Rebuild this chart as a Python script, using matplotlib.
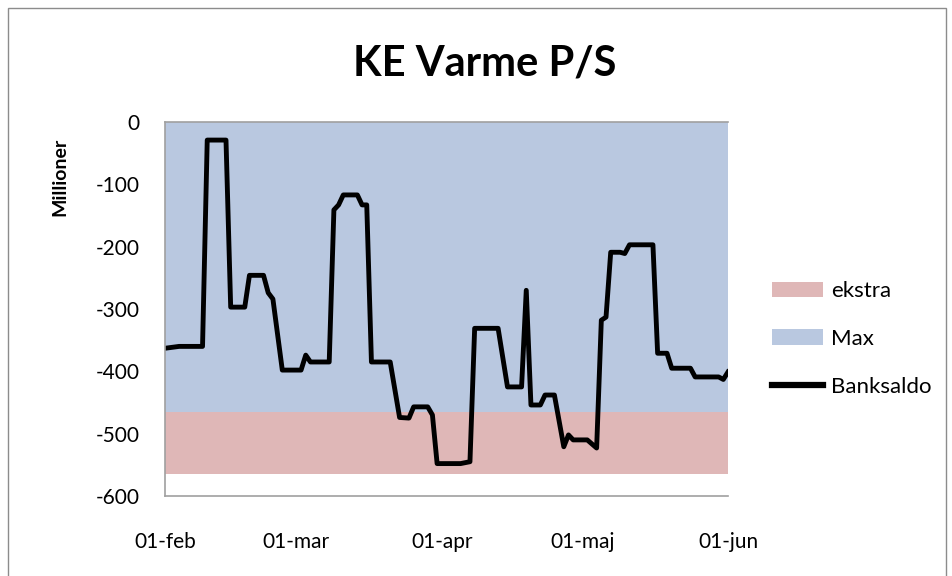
import numpy as np
import matplotlib
matplotlib.use("Agg")
import matplotlib.pyplot as plt
from matplotlib.patches import Patch, Rectangle
from matplotlib.lines import Line2D

plt.rcParams['font.family'] = ['Lato', 'DejaVu Sans']
plt.rcParams['axes.unicode_minus'] = False

# days after 01-feb and bank balance (millions)
days = [0, 3, 8, 9, 13, 14, 17, 18, 21, 22, 23, 25, 29, 30, 31, 35, 36, 37, 38,
        41, 42, 43, 44, 48, 50, 52, 53, 56, 57, 58, 63, 65, 66, 71, 73, 76, 77,
        78, 80, 81, 83, 85, 86, 87, 90, 92, 93, 94, 95, 97, 98, 99, 104, 105,
        107, 108, 112, 113, 118, 119, 120]
saldo = [-363, -360, -360, -29, -29, -297, -297, -246, -246, -274, -284, -398,
         -398, -374, -385, -385, -141, -133, -117, -117, -133, -133, -385, -385,
         -474, -475, -457, -457, -470, -548, -548, -545, -331, -331, -425, -425,
         -270, -454, -454, -438, -438, -521, -502, -510, -510, -523, -318, -313,
         -209, -209, -211, -197, -197, -371, -371, -395, -395, -409, -409, -413,
         -401]

# limit bands
max_top = 0
max_bottom = -465
ekstra_bottom = -565

tick_days = [0, 28, 59, 89, 120]
tick_labels = ['01-feb', '01-mar', '01-apr', '01-maj', '01-jun']

blue = '#B9C8E0'
pink = '#DFB7B7'

fig = plt.figure(figsize=(9.53, 5.76), dpi=100)
ax = fig.add_axes([165/953, 1-496/576, 563/953, 374/576])

span = [days[0], days[-1]]
ax.fill_between(span, ekstra_bottom, max_bottom, color=pink, lw=0)
ax.fill_between(span, max_bottom, max_top, color=blue, lw=0)
ax.plot(days, saldo, color='black', lw=3.5, solid_joinstyle='round')

ax.set_xlim(days[0], days[-1])
ax.set_ylim(-600, 0)
ax.set_yticks(np.arange(-600, 1, 100))
ax.set_xticks(tick_days)
ax.set_xticklabels(tick_labels)
ax.tick_params(length=0, labelsize=15, colors='black')
ax.tick_params(axis='y', pad=18)
ax.tick_params(axis='x', pad=26)

for s in ['top', 'left', 'bottom']:
    ax.spines[s].set_color('#A0A0A0')
    ax.spines[s].set_linewidth(1.2)
ax.spines['right'].set_visible(False)

fig.text(485/953, 1-63/576, 'KE Varme P/S', ha='center', va='center',
         fontsize=30, fontweight='bold')
fig.text(60/953, 1-177/576, 'Millioner', ha='center', va='center',
         rotation=90, fontsize=14, fontweight='bold')

handles = [Patch(color=pink, lw=0), Patch(color=blue, lw=0),
           Line2D([], [], color='black', lw=4.5)]
fig.legend(handles, ['ekstra', 'Max', 'Banksaldo'], loc='center left',
           bbox_to_anchor=(761/953, 1-339/576), frameon=False, fontsize=16,
           handlelength=2.3, handletextpad=0.35, labelspacing=1.25, borderpad=0)

fig.patches.append(Rectangle((8/953, -0.1), 938/953, 1.1-8/576,
                             transform=fig.transFigure, fill=False,
                             edgecolor='#8C8C8C', lw=1))

fig.savefig('out.png', dpi=100)
